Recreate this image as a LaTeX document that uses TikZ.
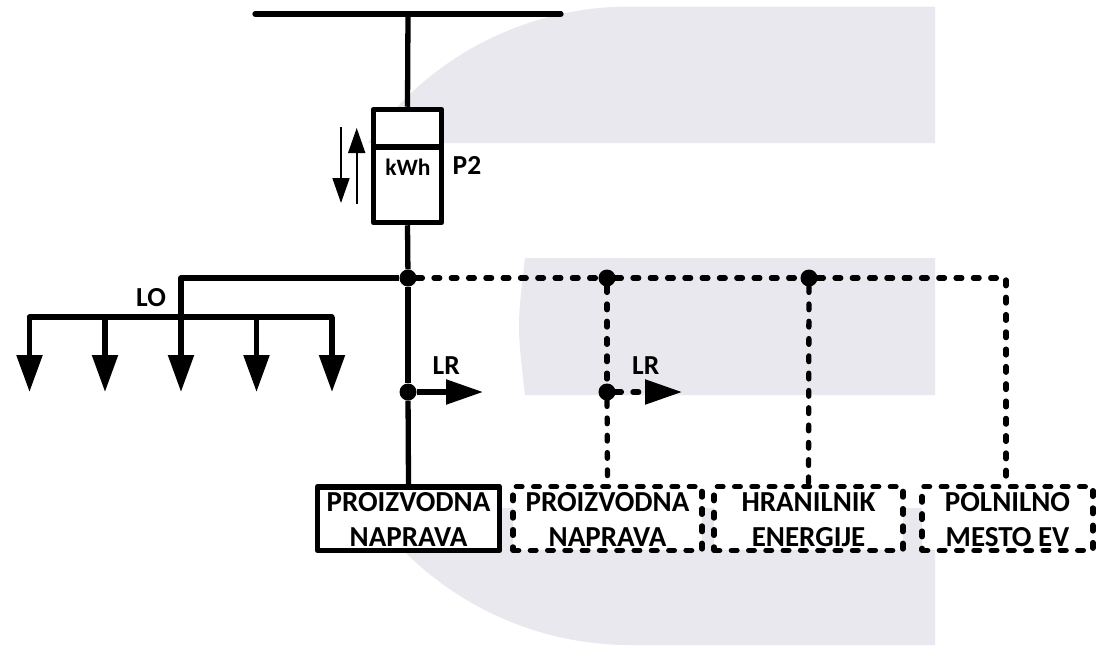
\documentclass[tikz,border=0pt]{standalone}
\usepackage{fontspec}
\setmainfont{Carlito}
\usetikzlibrary{arrows.meta}
\definecolor{wmgrey}{RGB}{232,232,238}
\newcommand{\twolines}[2]{\rule{0pt}{24pt}#1\\#2\rule[-4pt]{0pt}{4pt}}
\tikzset{
    power/.style={line width=5.3pt,line join=round},
    dashline/.style={line width=5.3pt,line cap=round,line join=round,dash pattern=on 5.7pt off 11.6pt},
    junction/.style={circle,fill=black,inner sep=0pt,minimum size=17pt},
    bigtip/.style={-{Triangle[length=37pt,width=25pt]}},
    smalltip/.style={line width=1.7pt,-{Triangle[length=25pt,width=17pt]}},
    sourcebox/.style={draw,fill=white,line width=5.5pt,line join=round,inner sep=0pt,minimum width=182pt,minimum height=63.5pt,align=center,font=\fontsize{29}{35}\selectfont\bfseries},
    planbox/.style={sourcebox,line width=5.3pt,line cap=round,dash pattern=on 5.7pt off 11.6pt},
    lbl/.style={anchor=base west,inner sep=0pt,font=\fontsize{27.5}{30}\selectfont\bfseries}
}
\begin{document}
\begin{tikzpicture}[x=1pt,y=-1pt]
    \useasboundingbox (0,0) rectangle (1097,645);
    \fill[wmgrey] (630,6.5) -- (935,6.5) -- (935,143) -- (368,143) .. controls (427.6,57.2) and (525.5,6.5) .. (630,6.5);
    \fill[wmgrey] (525,258) -- (935,258) -- (935,395) -- (525,395) .. controls (517,326) .. (525,258);
    \fill[wmgrey] (368,508) -- (935,508) -- (935,645) -- (630,645) .. controls (525.5,645) and (427.6,593.8) .. (368,508);

    \node[draw,fill=white,line width=5.5pt,line join=round,inner sep=0pt,minimum width=68pt,minimum height=113pt] (meter) at (407.5,166) {};
    \node[inner sep=0pt,font=\fontsize{23.5}{25}\selectfont\bfseries,anchor=base] (kwh) at (408,175) {kWh};
    \node[lbl] (ptwo) at (452.5,174) {P2};
    \node[lbl] (lolabel) at (136,306.5) {LO};
    \node[lbl] (lrone) at (432.5,374) {LR};
    \node[lbl] (lrtwo) at (632,374) {LR};

    \node[sourcebox] (source) at (408.5,518.5) {\twolines{PROIZVODNA}{NAPRAVA}};
    \node[planbox,minimum width=189pt] (plant) at (607.5,518.5) {\twolines{PROIZVODNA}{NAPRAVA}};
    \node[planbox,minimum width=189pt] (storage) at (808.5,518.5) {\twolines{HRANILNIK}{ENERGIJE}};
    \node[planbox,minimum width=171pt] (charger) at (1007.5,518.5) {\twolines{POLNILNO}{MESTO EV}};

    \node[junction] (jmain) at (408,278) {};
    \node[junction] (jplant) at (607,278) {};
    \node[junction] (jstore) at (809,278) {};
    \node[junction] (jlrone) at (408,392) {};
    \node[junction] (jlrtwo) at (607,392) {};

    \coordinate (busl) at (255,14);
    \coordinate (busr) at (561,14);
    \coordinate (bustap) at (408,14);
    \coordinate (divl) at (373.5,147);
    \coordinate (divr) at (441.5,147);
    \coordinate (upfoot) at (356.7,204);
    \coordinate (uptip) at (356.7,128);
    \coordinate (downfoot) at (341,127);
    \coordinate (downtip) at (341,203);
    \coordinate (lrtipone) at (483,392);
    \coordinate (lrtiptwo) at (682,392);
    \coordinate (corner) at (1006,278);
    \coordinate (lo1) at (29.5,317);
    \coordinate (lo2) at (105,317);
    \coordinate (lo3) at (181,317);
    \coordinate (lo4) at (256.5,317);
    \coordinate (lo5) at (332,317);
    \coordinate (lo1tip) at (29.5,392);
    \coordinate (lo2tip) at (105,392);
    \coordinate (lo3tip) at (181,392);
    \coordinate (lo4tip) at (256.5,392);
    \coordinate (lo5tip) at (332,392);

    \draw[power,line cap=round] (busl) -- (busr);
    \draw[power] (bustap) -- (meter.north);
    \draw[line width=5.5pt] (divl) -- (divr);
    \draw[smalltip] (upfoot) -- (uptip);
    \draw[smalltip] (downfoot) -- (downtip);
    \draw[power] (meter.south) -- (jmain);
    \draw[power] (jmain) -- (jlrone);
    \draw[power] (jlrone) -- (source.north);
    \draw[power] (jmain) -| (lo3);
    \draw[power,line cap=round] (lo1) -- (lo5);
    \draw[power,bigtip] (lo1) -- (lo1tip);
    \draw[power,bigtip] (lo2) -- (lo2tip);
    \draw[power,bigtip] (lo3) -- (lo3tip);
    \draw[power,bigtip] (lo4) -- (lo4tip);
    \draw[power,bigtip] (lo5) -- (lo5tip);
    \draw[power,-{Triangle[length=37pt,width=24pt]}] (jlrone) -- (lrtipone);
    \draw[dashline] (jmain) -- (jplant);
    \draw[dashline] (jplant) -- (jstore);
    \draw[dashline] (jstore) -- (corner) -- (charger.north -| corner);
    \draw[dashline] (jplant) -- (jlrtwo);
    \draw[dashline] (jlrtwo) -- (plant.north);
    \draw[dashline] (jstore) -- (storage.north);
    \draw[dashline,-{Triangle[length=37pt,width=24pt]}] (jlrtwo) -- (lrtiptwo);
\end{tikzpicture}
\end{document}
